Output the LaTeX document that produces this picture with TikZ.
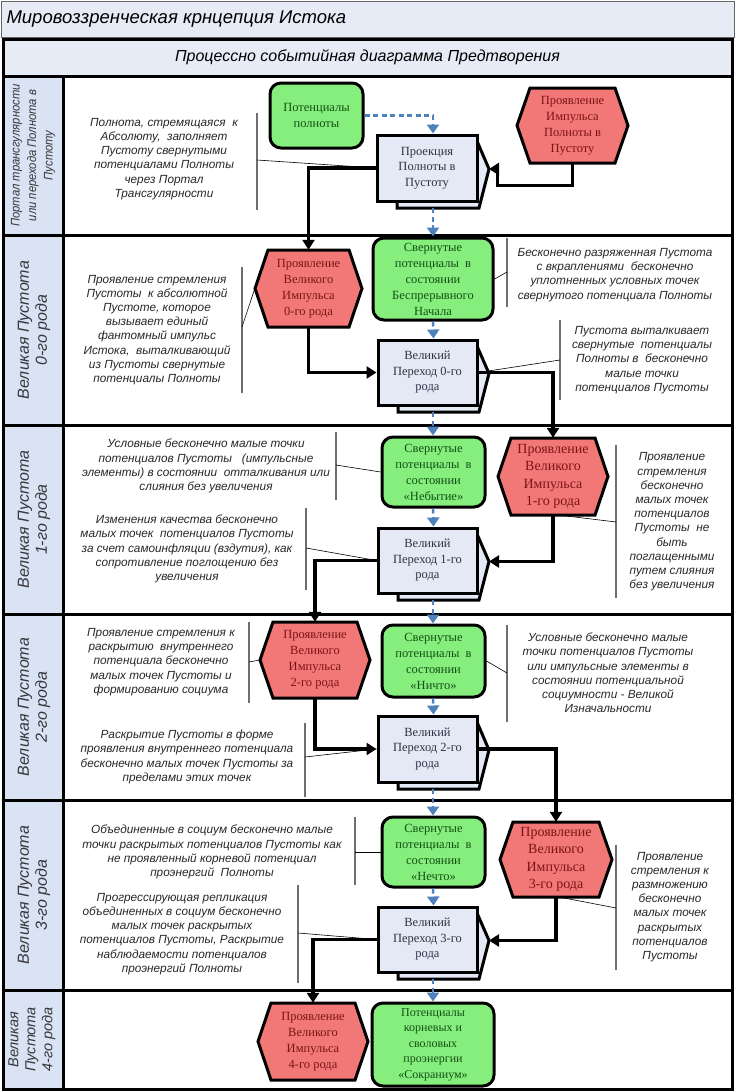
\documentclass[tikz,border=0pt]{standalone}
\usepackage{fontspec}
\setmainfont{Liberation Serif}
\setsansfont{Liberation Sans}
\newfontfamily\semisans[FakeStretch=0.9]{Liberation Sans}
\usetikzlibrary{arrows.meta,calc}
\definecolor{gfill}{RGB}{133,238,125}
\definecolor{rfill}{RGB}{242,120,120}
\definecolor{bfill}{RGB}{228,233,245}
\definecolor{lfill}{RGB}{218,227,243}
\definecolor{tfill}{RGB}{230,235,246}
\definecolor{dblue}{RGB}{79,129,189}
\definecolor{gtext}{RGB}{20,80,20}
\definecolor{rtext}{RGB}{125,20,20}
\definecolor{btext}{RGB}{50,50,70}
\definecolor{notec}{RGB}{40,40,40}
\definecolor{brkc}{RGB}{110,110,110}
\definecolor{labc}{RGB}{55,55,60}
\newcommand\procbox[6]{%
  \draw[procback] ({#2+20},{#3+6}) -- ({#4},{#3+6}) -- ({#4+12},{(#3+#5)/2+1}) -- ({#4+2},{#5+7}) -- ({#2+20},{#5+7}) -- cycle;
  \node[proc, minimum width={#4-#2}, minimum height={#5-#3}] (#1) at ({(#2+#4)/2},{(#3+#5)/2}) {#6};
  \coordinate (#1-tip) at ({#4+12},{(#3+#5)/2+1});
  \coordinate (#1-bot) at (433,{#5+7});
}
\newcommand\hexbox[7]{%
  \draw[hexdraw] ({#2-#4/2},{#3}) -- ({#2-#4/2+13},{#3-#5/2}) -- ({#2+#4/2-13},{#3-#5/2}) -- ({#2+#4/2},{#3}) -- ({#2+#4/2-13},{#3+#5/2}) -- ({#2-#4/2+13},{#3+#5/2}) -- cycle;
  \node[hextext, minimum width=#4, minimum height=#5, #6] (#1) at (#2,#3) {#7};
}
\begin{document}
\begin{tikzpicture}[x=1pt,y=-1pt,
  proc/.style={draw=black, line width=3pt, fill=bfill, text=btext, align=center, inner sep=1pt,
    font=\fontsize{12.5}{15.5}\selectfont},
  procback/.style={draw=black, line width=3pt, fill=bfill},
  gbox/.style={draw=black, line width=3pt, fill=gfill, rounded corners=11pt, text=gtext, align=center,
    inner sep=1pt, font=\fontsize{12.5}{16}\selectfont},
  hexdraw/.style={draw=black, line width=3pt, fill=rfill},
  hextext/.style={text=rtext, align=center, inner sep=1pt, font=\fontsize{12.5}{16}\selectfont},
  bighex/.style={font=\fontsize{14}{17.5}\selectfont},
  flow/.style={line width=3.4pt, -{Triangle[length=10pt,width=12pt]}},
  dflow/.style={line width=2.4pt, draw=dblue, dash pattern=on 5pt off 3.5pt,
    -{Triangle[length=9pt,width=12pt,fill=dblue]}},
  note/.style={font=\sffamily\itshape\fontsize{11.8}{14.2}\selectfont, text=notec, align=center, inner sep=0pt},
  brk/.style={draw=brkc, line width=1.3pt},
  link/.style={draw=black, line width=0.6pt},
  lanelab/.style={font=\sffamily\itshape\fontsize{16}{18}\selectfont, text=labc, align=center, rotate=90},
  smalllab/.style={font=\semisans\itshape\fontsize{12.5}{16.5}\selectfont},
  lastlab/.style={font=\sffamily\itshape\fontsize{14.5}{17}\selectfont},
  frame/.style={draw=black, line width=3pt}
]
\useasboundingbox (0,0) rectangle (735,1092);
% title
\draw[fill=tfill, draw=black!60, line width=1pt] (1,1) rectangle (734,37);
\node[anchor=west, font=\sffamily\itshape\fontsize{18.5}{21}\selectfont] (title) at (3,19.5) {Мировоззренческая крнцепция Истока};
\draw[frame, fill=tfill] (3,39) rectangle (732,76);
\node[font=\sffamily\itshape\fontsize{16}{19}\selectfont] (sub) at (367.5,57.5) {Процессно событийная диаграмма Предтворения};
% lanes
\foreach \ya/\yb in {76/235, 235/425, 425/614, 614/800, 800/990, 990/1089} {
  \draw[frame, fill=lfill] (3,\ya) rectangle (63,\yb);
  \draw[frame, fill=white] (63,\ya) rectangle (732,\yb);
}
\node[lanelab, smalllab] (lab0) at (33,155.5) {Портал трансгулярности\\или перехода Полнота в\\Пустоту};
\node[lanelab] (lab1) at (34,330) {Великая Пустота\\0-го рода};
\node[lanelab] (lab2) at (34,519.5) {Великая Пустота\\1-го рода};
\node[lanelab] (lab3) at (34,707) {Великая Пустота\\2-го рода};
\node[lanelab] (lab4) at (34,895) {Великая Пустота\\3-го рода};
\node[lanelab, lastlab] (lab5) at (32,1039.5) {Великая\\Пустота\\4-го рода};

% ---- lane 0
\node[gbox, minimum width=93, minimum height=65] (g0) at (316.5,115.5) {Потенциалы\\полноты};
\hexbox{h0}{572.5}{125.5}{111}{75}{}{Проявление\\Импульса\\Полноты в\\Пустоту}
\procbox{p0}{377}{135}{477}{201}{Проекция\\Полноты в\\Пустоту}
\node[note] (n0) at (164,159) {Полнота, стремящаяся\ \ к\\Абсолюту,\ \ заполняет\\Пустоту свернутыми\\потенциалами Полноты\\через Портал\\Трансгулярности};
\draw[brk] (257,113) -- (257,210);
\coordinate (c0) at (257,160);
\draw[link] (c0) -- (p0.west);

% ---- lane 1
\hexbox{h1}{308.5}{288.5}{107}{77}{}{Проявление\\Великого\\Импульса\\0-го рода}
\node[gbox, minimum width=120, minimum height=82] (g1) at (433,279) {Свернутые\\потенциалы\ \ в\\состоянии\\Беспрерывного\\Начала};
\procbox{p1}{378}{340}{477}{405}{Великий\\Переход 0-го\\рода}
\node[note] (n1a) at (157,330) {Проявление стремления\\Пустоты\ \ к абсолютной\\Пустоте, которое\\вызывает единый\\фантомный импульс\\Истока,\ \ выталкивающий\\из Пустоты свернутые\\потенциалы Полноты};
\draw[brk] (242,267) -- (242,393);
\coordinate (c1a) at (242,327);
\draw[link] (c1a) -- (h1.west);
\node[note] (n1b) at (615,275) {Бесконечно разряженная Пустота\\с вкраплениями\ \ бесконечно\\уплотненных условных точек\\свернутого потенциала Полноты};
\draw[brk] (507,238) -- (507,307);
\coordinate (c1b) at (507,272);
\draw[link] (g1.east) -- (c1b);
\node[note] (n1c) at (642,360) {Пустота выталкивает\\свернутые\ \ потенциалы\\Полноты в\ \ бесконечно\\малые точки\\потенциалов Пустоты};
\draw[brk] (560,320) -- (560,400);
\coordinate (c1c) at (560,360);
\draw[link] (p1.east) -- (c1c);

% ---- lane 2
\node[gbox, minimum width=103, minimum height=70] (g2) at (433.5,472) {Свернутые\\потенциалы\ \ в\\состоянии\\«Небытие»};
\hexbox{h2}{553}{476.5}{110}{77}{bighex}{Проявление\\Великого\\Импульса\\1-го рода}
\procbox{p2}{378}{528}{477}{593}{Великий\\Переход 1-го\\рода}
\node[note] (n2a) at (206,466) {Условные бесконечно малые точки\\потенциалов Пустоты\ \ \ (импульсные\\элементы) в состоянии\ \ отталкивания или\\слияния без увеличения};
\draw[brk] (336,432) -- (336,500);
\coordinate (c2a) at (336,465);
\draw[link] (c2a) -- (g2.west);
\node[note] (n2b) at (187,549) {Изменения качества бесконечно\\малых точек\ \ потенциалов Пустоты\\за счет самоинфляции (вздутия), как\\сопротивление поглощению без\\увеличения};
\draw[brk] (306,508) -- (306,590);
\coordinate (c2b) at (306,548);
\draw[link] (c2b) -- (p2.west);
\node[note] (n2c) at (672,522) {Проявление\\стремления\\бесконечно\\малых точек\\потенциалов\\Пустоты\ \ не\\быть\\поглащенными\\путем слияния\\без увеличения};
\draw[brk] (616,445) -- (616,598);
\coordinate (c2c) at (616,522);
\draw[link] ([xshift=7pt]h2.south) -- (c2c);

% ---- lane 3
\hexbox{h3}{315}{660}{110}{76}{}{Проявление\\Великого\\Импульса\\2-го рода}
\node[gbox, minimum width=103, minimum height=72] (g3) at (433.5,661) {Свернутые\\потенциалы\ \ в\\состоянии\\«Ничто»};
\procbox{p3}{378}{716}{477}{782}{Великий\\Переход 2-го\\рода}
\node[note] (n3a) at (161,662) {Проявление стремления к\\раскрытию\ \ внутреннего\\потенциала бесконечно\\малых точек Пустоты и\\формированию социума};
\draw[brk] (249,622) -- (249,703);
\coordinate (c3a) at (249,662);
\draw[link] (c3a) -- (h3.west);
\node[note] (n3b) at (187,757) {Раскрытие Пустоты в форме\\проявления внутреннего потенциала\\бесконечно малых точек Пустоты за\\пределами этих точек};
\draw[brk] (305,723) -- (305,797);
\coordinate (c3b) at (305,757);
\draw[link] (c3b) -- (p3.west);
\node[note] (n3c) at (608,673) {Условные бесконечно малые\\точки потенциалов Пустоты\\или импульсные элементы в\\состоянии потенциальной\\социумности - Великой\\Изначальности};
\draw[brk] (507,625) -- (507,722);
\coordinate (c3c) at (507,673);
\draw[link] (g3.east) -- (c3c);

% ---- lane 4
\node[gbox, minimum width=103, minimum height=70] (g4) at (433.5,852) {Свернутые\\потенциалы\ \ в\\состоянии\\«Нечто»};
\hexbox{h4}{556}{859.5}{112}{75}{bighex}{Проявление\\Великого\\Импульса\\3-го рода}
\procbox{p4}{378}{907}{477}{972}{Великий\\Переход 3-го\\рода}
\node[note] (n4a) at (212,852) {Объединенные в социум бесконечно малые\\точки раскрытых потенциалов Пустоты как\\не проявленный корневой потенциал\\проэнергий\ \ Полноты};
\draw[brk] (355,817) -- (355,885);
\coordinate (c4a) at (355,852);
\draw[link] (c4a) -- (g4.west);
\node[note] (n4b) at (182,934) {Прогрессирующая репликация\\объединенных в социум бесконечно\\малых точек раскрытых\\потенциалов Пустоты, Раскрытие\\наблюдаемости потенциалов\\проэнергий Полноты};
\draw[brk] (298,885) -- (298,983);
\coordinate (c4b) at (298,933);
\draw[link] (c4b) -- (p4.west);
\node[note] (n4c) at (670,907) {Проявление\\стремления к\\размножению\\бесконечно\\малых точек\\раскрытых\\потенциалов\\Пустоты};
\draw[brk] (616,845) -- (616,970);
\coordinate (c4c) at (616,908);
\draw[link] ([xshift=4pt]h4.south) -- (c4c);

% ---- lane 5
\hexbox{h5}{313}{1041.5}{110}{77}{}{Проявление\\Великого\\Импульса\\4-го рода}
\node[gbox, minimum width=122, minimum height=83, font=\fontsize{12}{15.5}\selectfont] (g5) at (433,1044.5) {Потенциалы\\корневых и\\своловых\\проэнергии\\«Сокраниум»};

% ---- flows
\draw[dflow] (g0.east) -| ([xshift=6pt]p0.north);
\draw[flow] (h0.south) |- ++(0,22) -| ++(-75,0) |- (p0-tip);
\draw[flow] (p0.west) -| (h1.north);
\draw[dflow] (p0-bot) -- (g1.north);
\draw[flow] (h1.south) |- (p1.west);
\draw[dflow] (g1.south) -- ([xshift=6pt]p1.north);
\draw[flow] (p1.east) -| (h2.north);
\draw[dflow] (p1-bot) -- (g2.north -| p1-bot);
\draw[dflow] (g2.south -| p1-bot) -- ([xshift=6pt]p2.north);
\draw[flow] (h2.south) |- (p2-tip);
\draw[flow] (p2.west) -| (h3.north);
\draw[dflow] (p2-bot) -- (g3.north -| p2-bot);
\draw[dflow] (g3.south -| p2-bot) -- ([xshift=6pt]p3.north);
\draw[flow] (h3.south) |- (p3.west);
\draw[flow] (p3.east) -| (h4.north);
\draw[dflow] (p3-bot) -- (g4.north -| p3-bot);
\draw[dflow] (g4.south -| p3-bot) -- ([xshift=6pt]p4.north);
\draw[flow] (h4.south) |- (p4-tip);
\draw[flow] (p4.west) -| (h5.north);
\draw[dflow] (p4-bot) -- (g5.north);
\end{tikzpicture}
\end{document}
